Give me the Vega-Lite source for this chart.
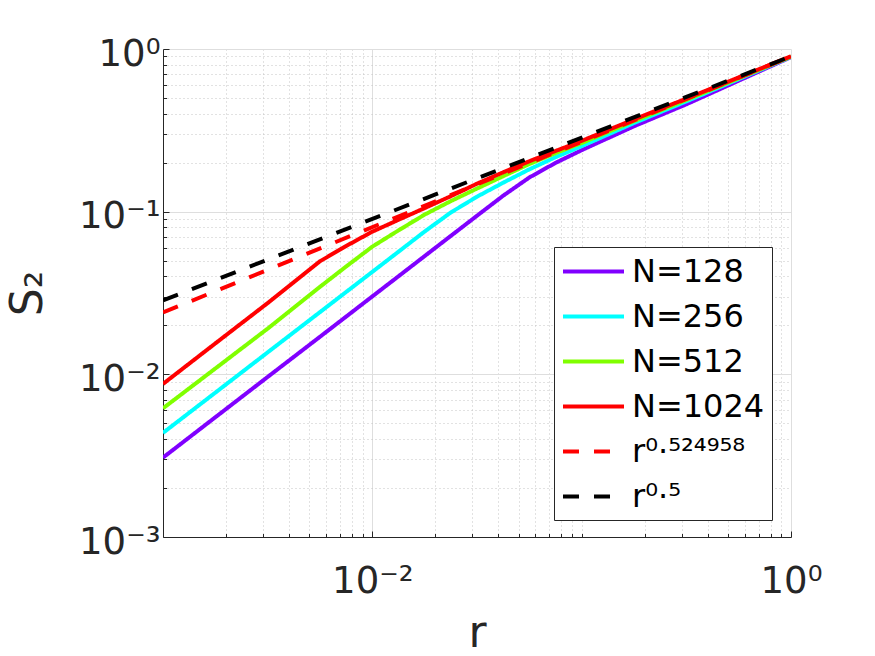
{
  "$schema": "https://vega.github.io/schema/vega-lite/v6.json",
  "width": 628,
  "height": 488,
  "autosize": {"type": "none"},
  "padding": {"left": 163, "top": 49, "right": 84, "bottom": 119},
  "background": "white",
  "config": {
    "view": {"stroke": null},
    "font": "DejaVu Sans"
  },
  "data": {
    "values": [
      {"series": "N=128", "r": 0.001, "s2": 0.003076},
      {"series": "N=128", "r": 0.001778, "s2": 0.005445},
      {"series": "N=128", "r": 0.003162, "s2": 0.009638},
      {"series": "N=128", "r": 0.005623, "s2": 0.01702},
      {"series": "N=128", "r": 0.01, "s2": 0.03013},
      {"series": "N=128", "r": 0.01334, "s2": 0.04009},
      {"series": "N=128", "r": 0.01778, "s2": 0.05333},
      {"series": "N=128", "r": 0.02371, "s2": 0.07096},
      {"series": "N=128", "r": 0.03162, "s2": 0.09441},
      {"series": "N=128", "r": 0.04217, "s2": 0.1253},
      {"series": "N=128", "r": 0.05623, "s2": 0.1622},
      {"series": "N=128", "r": 0.07499, "s2": 0.1995},
      {"series": "N=128", "r": 0.1, "s2": 0.2388},
      {"series": "N=128", "r": 0.1778, "s2": 0.335},
      {"series": "N=128", "r": 0.3162, "s2": 0.4571},
      {"series": "N=128", "r": 0.5623, "s2": 0.6383},
      {"series": "N=128", "r": 1, "s2": 0.8913},

      {"series": "N=256", "r": 0.001, "s2": 0.004365},
      {"series": "N=256", "r": 0.001778, "s2": 0.007716},
      {"series": "N=256", "r": 0.003162, "s2": 0.01365},
      {"series": "N=256", "r": 0.005623, "s2": 0.02413},
      {"series": "N=256", "r": 0.01, "s2": 0.04266},
      {"series": "N=256", "r": 0.01334, "s2": 0.05675},
      {"series": "N=256", "r": 0.01778, "s2": 0.07551},
      {"series": "N=256", "r": 0.02371, "s2": 0.09886},
      {"series": "N=256", "r": 0.03162, "s2": 0.1236},
      {"series": "N=256", "r": 0.04217, "s2": 0.1507},
      {"series": "N=256", "r": 0.05623, "s2": 0.182},
      {"series": "N=256", "r": 0.07499, "s2": 0.2163},
      {"series": "N=256", "r": 0.1, "s2": 0.2529},
      {"series": "N=256", "r": 0.1778, "s2": 0.3508},
      {"series": "N=256", "r": 0.3162, "s2": 0.4764},
      {"series": "N=256", "r": 0.5623, "s2": 0.6531},
      {"series": "N=256", "r": 1, "s2": 0.8954},

      {"series": "N=512", "r": 0.001, "s2": 0.00618},
      {"series": "N=512", "r": 0.001778, "s2": 0.01086},
      {"series": "N=512", "r": 0.003162, "s2": 0.0191},
      {"series": "N=512", "r": 0.005623, "s2": 0.03451},
      {"series": "N=512", "r": 0.0075, "s2": 0.04603},
      {"series": "N=512", "r": 0.01, "s2": 0.06095},
      {"series": "N=512", "r": 0.01334, "s2": 0.07674},
      {"series": "N=512", "r": 0.01778, "s2": 0.09594},
      {"series": "N=512", "r": 0.02371, "s2": 0.1161},
      {"series": "N=512", "r": 0.03162, "s2": 0.1387},
      {"series": "N=512", "r": 0.04217, "s2": 0.1652},
      {"series": "N=512", "r": 0.05623, "s2": 0.1963},
      {"series": "N=512", "r": 0.07499, "s2": 0.2291},
      {"series": "N=512", "r": 0.1, "s2": 0.2642},
      {"series": "N=512", "r": 0.1778, "s2": 0.3606},
      {"series": "N=512", "r": 0.3162, "s2": 0.4864},
      {"series": "N=512", "r": 0.5623, "s2": 0.6607},
      {"series": "N=512", "r": 1, "s2": 0.8974},

      {"series": "N=1024", "r": 0.001, "s2": 0.00873},
      {"series": "N=1024", "r": 0.001778, "s2": 0.01549},
      {"series": "N=1024", "r": 0.003162, "s2": 0.02742},
      {"series": "N=1024", "r": 0.005623, "s2": 0.04955},
      {"series": "N=1024", "r": 0.0075, "s2": 0.06152},
      {"series": "N=1024", "r": 0.01, "s2": 0.07534},
      {"series": "N=1024", "r": 0.01334, "s2": 0.08913},
      {"series": "N=1024", "r": 0.01778, "s2": 0.1052},
      {"series": "N=1024", "r": 0.02371, "s2": 0.1245},
      {"series": "N=1024", "r": 0.03162, "s2": 0.1486},
      {"series": "N=1024", "r": 0.04217, "s2": 0.1746},
      {"series": "N=1024", "r": 0.05623, "s2": 0.2042},
      {"series": "N=1024", "r": 0.07499, "s2": 0.236},
      {"series": "N=1024", "r": 0.1, "s2": 0.2723},
      {"series": "N=1024", "r": 0.1778, "s2": 0.369},
      {"series": "N=1024", "r": 0.3162, "s2": 0.4955},
      {"series": "N=1024", "r": 0.5623, "s2": 0.6683},
      {"series": "N=1024", "r": 1, "s2": 0.9016},

      {"series": "r⁰·⁵²⁴⁹⁵⁸", "r": 0.001, "s2": 0.02399},
      {"series": "r⁰·⁵²⁴⁹⁵⁸", "r": 1, "s2": 0.9016},

      {"series": "r⁰·⁵", "r": 0.001, "s2": 0.02851},
      {"series": "r⁰·⁵", "r": 1, "s2": 0.9016}
    ]
  },
  "mark": {"type": "line", "strokeWidth": 4, "clip": true},
  "encoding": {
    "x": {
      "field": "r",
      "type": "quantitative",
      "scale": {"type": "log", "domain": [0.001, 1], "nice": false},
      "axis": {
        "values": [0.002, 0.003, 0.004, 0.005, 0.006, 0.007, 0.008, 0.009, 0.01, 0.02, 0.03, 0.04, 0.05, 0.06, 0.07, 0.08, 0.09, 0.1, 0.2, 0.3, 0.4, 0.5, 0.6, 0.7, 0.8, 0.9, 1],
        "labelExpr": "datum.value == 0.01 ? '10⁻²' : (datum.value == 1 ? '10⁰' : '')",
        "labelOverlap": false,
        "labelFlush": false,
        "labelFont": "DejaVu Sans",
        "labelFontSize": 37,
        "labelColor": "#262626",
        "labelPadding": 32,
        "grid": true,
        "gridColor": {"condition": {"test": "datum.value == 0.01 || datum.value == 1", "value": "#dedede"}, "value": "#c4c4c4"},
        "gridDash": {"condition": {"test": "datum.value == 0.01 || datum.value == 1", "value": []}, "value": [1, 3]},
        "tickSize": {"condition": {"test": "datum.value == 0.01 || datum.value == 1", "value": -6}, "value": -3.5},
        "tickColor": "#262626",
        "domainColor": "#262626",
        "title": "r",
        "titleFont": "DejaVu Sans",
        "titleFontSize": 44,
        "titleFontWeight": "normal",
        "titleColor": "#262626",
        "titlePadding": 10
      }
    },
    "y": {
      "field": "s2",
      "type": "quantitative",
      "scale": {"type": "log", "domain": [0.001, 1], "nice": false},
      "axis": {
        "values": [0.001, 0.002, 0.003, 0.004, 0.005, 0.006, 0.007, 0.008, 0.009, 0.01, 0.02, 0.03, 0.04, 0.05, 0.06, 0.07, 0.08, 0.09, 0.1, 0.2, 0.3, 0.4, 0.5, 0.6, 0.7, 0.8, 0.9, 1],
        "labelExpr": "datum.value == 1 ? '10⁰' : (datum.value == 0.1 ? '10⁻¹' : (datum.value == 0.01 ? '10⁻²' : (datum.value == 0.001 ? '10⁻³' : '')))",
        "labelOverlap": false,
        "labelFlush": false,
        "labelFont": "DejaVu Sans",
        "labelFontSize": 37,
        "labelColor": "#262626",
        "labelPadding": 9,
        "labelOffset": 5,
        "grid": true,
        "gridColor": {"condition": {"test": "datum.value == 0.001 || datum.value == 0.01 || datum.value == 0.1 || datum.value == 1", "value": "#dedede"}, "value": "#c4c4c4"},
        "gridDash": {"condition": {"test": "datum.value == 0.001 || datum.value == 0.01 || datum.value == 0.1 || datum.value == 1", "value": []}, "value": [1, 3]},
        "tickSize": {"condition": {"test": "datum.value == 0.001 || datum.value == 0.01 || datum.value == 0.1 || datum.value == 1", "value": -6}, "value": -3.5},
        "tickColor": "#262626",
        "domainColor": "#262626",
        "title": "S₂",
        "titleFont": "DejaVu Sans",
        "titleFontSize": 44,
        "titleFontWeight": "normal",
        "titleColor": "#262626",
        "titlePadding": 28
      }
    },
    "color": {
      "field": "series",
      "type": "nominal",
      "scale": {
        "domain": ["N=128", "N=256", "N=512", "N=1024", "r⁰·⁵²⁴⁹⁵⁸", "r⁰·⁵"],
        "range": ["#8000ff", "#00ffff", "#80ff00", "#ff0000", "#ff0000", "#000000"]
      },
      "legend": {
        "orient": "none",
        "legendX": 391,
        "legendY": 198,
        "title": null,
        "strokeColor": "#262626",
        "fillColor": "white",
        "padding": 7,
        "cornerRadius": 0,
        "symbolType": "M-2,0H2",
        "symbolSize": 930,
        "symbolOffset": 15,
        "symbolStrokeWidth": 4,
        "labelFont": "DejaVu Sans",
        "labelFontSize": 32,
        "labelColor": "#000000",
        "labelOffset": 21,
        "rowPadding": 11
      }
    },
    "strokeDash": {
      "field": "series",
      "type": "nominal",
      "scale": {
        "domain": ["N=128", "N=256", "N=512", "N=1024", "r⁰·⁵²⁴⁹⁵⁸", "r⁰·⁵"],
        "range": [[1, 0], [1, 0], [1, 0], [1, 0], [16, 15], [16, 15]]
      }
    }
  }
}
